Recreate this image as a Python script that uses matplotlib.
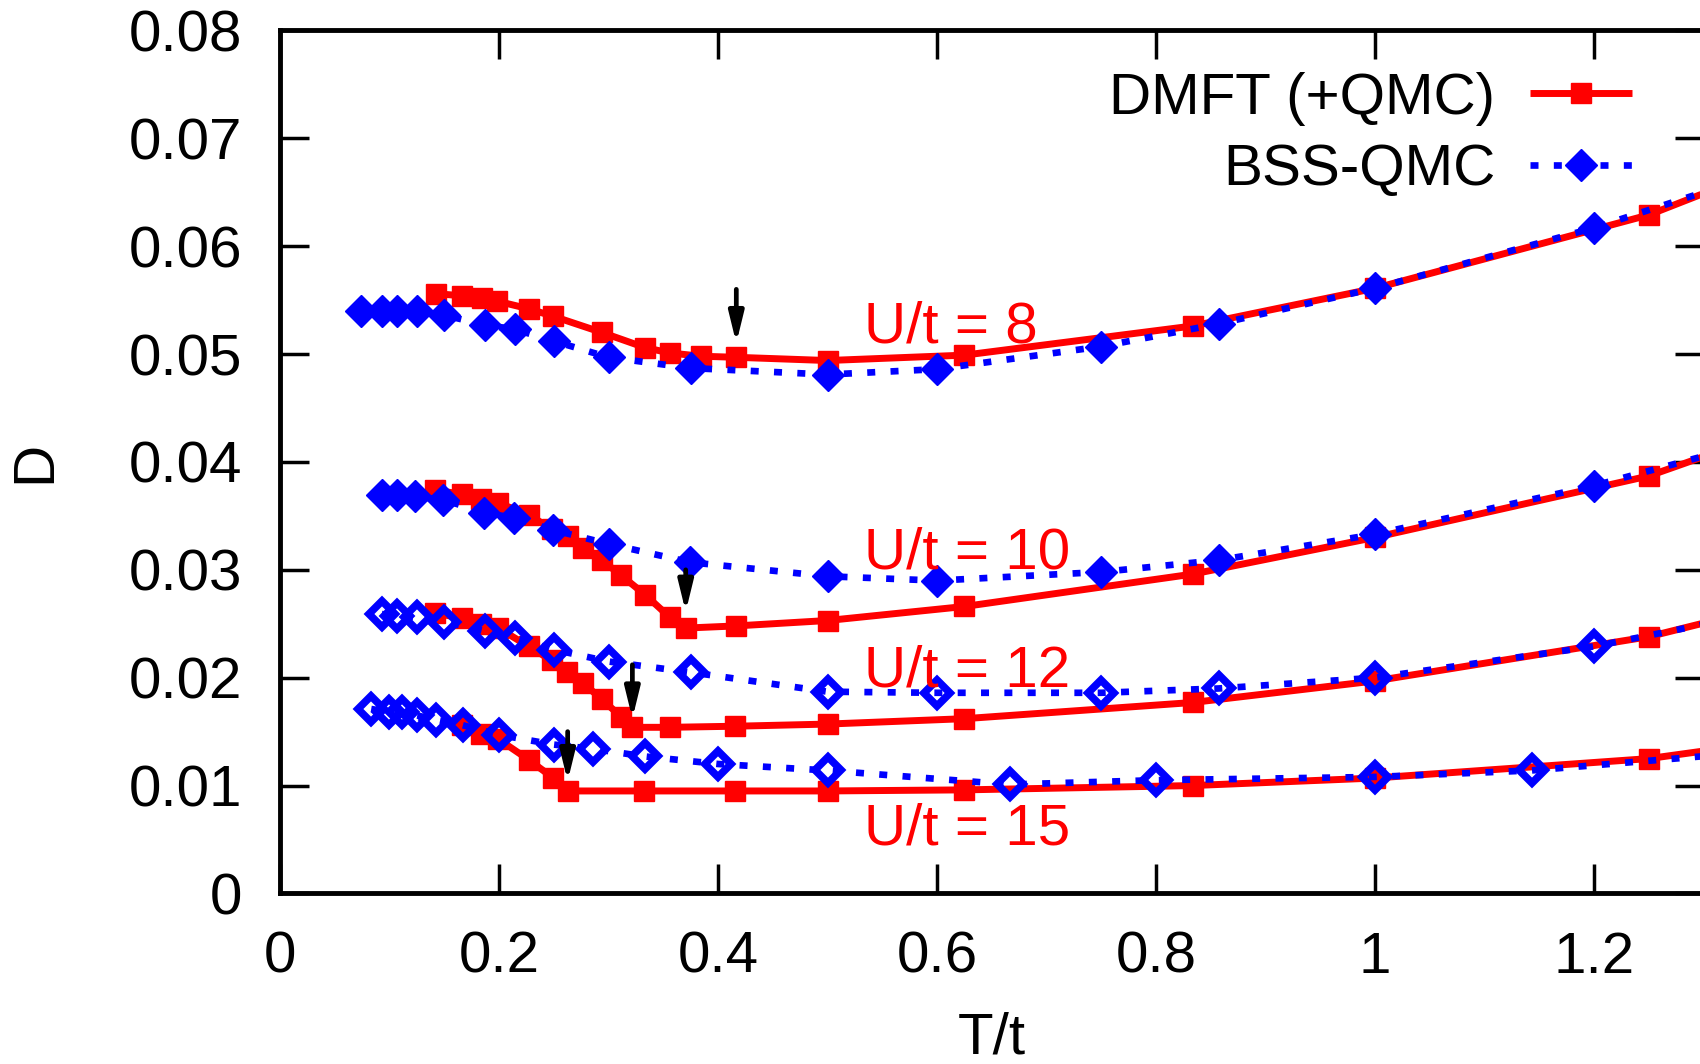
import matplotlib
matplotlib.use('Agg')
import matplotlib.pyplot as plt

plt.rcParams['font.family'] = ['Liberation Sans', 'DejaVu Sans']
FS = 42

# ---------------- data ----------------
T_dmft_8 = [0.1425, 0.1665, 0.1844, 0.1985, 0.2270, 0.2496, 0.2940, 0.3333, 0.3560, 0.3845,
            0.4167, 0.5, 0.625, 0.8333, 1.0, 1.25, 1.4286]
D_dmft_8 = [0.0556, 0.0554, 0.0552, 0.0549, 0.0542, 0.0535, 0.0520, 0.0506, 0.0501, 0.0498,
            0.0497, 0.0494, 0.0499, 0.0526, 0.0561, 0.0629, 0.0700]

T_bss_8 = [0.0737, 0.093, 0.107, 0.125, 0.15, 0.1875, 0.2143, 0.25, 0.3, 0.375, 0.5, 0.6,
           0.75, 0.8571, 1.0, 1.2, 1.5]
D_bss_8 = [0.0540, 0.0540, 0.0540, 0.0540, 0.0536, 0.0527, 0.0523, 0.0512, 0.0497, 0.0487,
           0.0481, 0.0486, 0.0507, 0.0528, 0.0561, 0.0617, 0.0716]

T_dmft_10 = [0.1416, 0.166, 0.184, 0.1995, 0.227, 0.248, 0.2633, 0.277, 0.2937, 0.3114, 0.3333,
             0.356, 0.3708, 0.4167, 0.5, 0.625, 0.8333, 1.0, 1.25, 1.4286]
D_dmft_10 = [0.0374, 0.0370, 0.0366, 0.0362, 0.0351, 0.0338, 0.0331, 0.0320, 0.0309, 0.0295,
             0.0277, 0.0256, 0.0246, 0.0248, 0.0253, 0.0266, 0.0296, 0.0330, 0.0387, 0.0451]

T_bss_10 = [0.093, 0.107, 0.1233, 0.149, 0.1866, 0.214, 0.249, 0.3, 0.3744, 0.5, 0.6, 0.75,
            0.8575, 1.0, 1.2, 1.5]
D_bss_10 = [0.0369, 0.0369, 0.0368, 0.0365, 0.0353, 0.0348, 0.0337, 0.0324, 0.0307, 0.0294,
            0.0290, 0.0298, 0.0309, 0.0333, 0.0378, 0.0460]

T_dmft_12 = [0.1416, 0.166, 0.184, 0.1995, 0.227, 0.248, 0.262, 0.277, 0.2937, 0.3114, 0.3217,
             0.356, 0.4155, 0.5, 0.625, 0.8333, 1.0, 1.25, 1.4286]
D_dmft_12 = [0.0260, 0.0255, 0.0250, 0.0246, 0.0229, 0.0216, 0.0205, 0.0195, 0.0180, 0.0164,
             0.0154, 0.0154, 0.0155, 0.0157, 0.0162, 0.0177, 0.0197, 0.0238, 0.0283]

T_bss_12 = [0.093, 0.107, 0.125, 0.15, 0.1875, 0.2143, 0.25, 0.3, 0.375, 0.5, 0.6, 0.75,
            0.8571, 1.0, 1.2, 1.5]
D_bss_12 = [0.0259, 0.0257, 0.0256, 0.0252, 0.0243, 0.0237, 0.0226, 0.0215, 0.0205, 0.0187,
            0.0186, 0.0186, 0.0190, 0.0200, 0.0229, 0.0290]

T_dmft_15 = [0.1665, 0.184, 0.1995, 0.227, 0.2496, 0.2633, 0.3327, 0.4155, 0.5, 0.625, 0.8333,
             1.0, 1.25, 1.4286]
D_dmft_15 = [0.0156, 0.0148, 0.0143, 0.0124, 0.0107, 0.0095, 0.0095, 0.0095, 0.0095, 0.0096,
             0.0100, 0.0107, 0.0125, 0.0150]

T_bss_15 = [0.0833, 0.1, 0.1111, 0.125, 0.1429, 0.1667, 0.2, 0.25, 0.2857, 0.3333, 0.4, 0.5,
            0.6667, 0.8, 1.0, 1.1429, 1.5]
D_bss_15 = [0.0171, 0.0168, 0.0168, 0.0165, 0.0161, 0.0156, 0.0147, 0.0138, 0.0134, 0.0127,
            0.0120, 0.0114, 0.0101, 0.0105, 0.0108, 0.0114, 0.0144]

arrow_T = [0.4167, 0.3705, 0.3218, 0.2627]
arrow_top = [0.0560, 0.0300, 0.0212, 0.0150]
arrow_tip = [0.0510, 0.0261, 0.0162, 0.0104]

label_text = ['U/t = 8', 'U/t = 10', 'U/t = 12', 'U/t = 15']
label_T = [0.5334, 0.5334, 0.5334, 0.5334]
label_D = [0.0511, 0.0301, 0.0192, 0.00455]

xticks = [0, 0.2, 0.4, 0.6, 0.8, 1.0, 1.2]
xticklabels = ['0', '0.2', '0.4', '0.6', '0.8', '1', '1.2']
yticks = [0, 0.01, 0.02, 0.03, 0.04, 0.05, 0.06, 0.07, 0.08]
yticklabels = ['0', '0.01', '0.02', '0.03', '0.04', '0.05', '0.06', '0.07', '0.08']

# ---------------- plot ----------------
fig = plt.figure(figsize=(17, 10.64), dpi=100)
ax = fig.add_axes([0.1647, 0.1603, 0.8374, 0.8111])

red = '#ff0000'
blue = '#0000ff'
dmft_kw = dict(color=red, lw=5, marker='s', ms=15, zorder=3, solid_capstyle='butt')
bss_kw = dict(color=blue, lw=4.8, ls=(0, (1.2, 2.3)), marker='D', ms=16, zorder=4,
              dash_capstyle='butt')
hollow_kw = dict(bss_kw, ms=13, mfc='none', mew=5.5)

ax.plot(T_dmft_8, D_dmft_8, label='DMFT (+QMC)', **dmft_kw)
ax.plot(T_dmft_10, D_dmft_10, **dmft_kw)
ax.plot(T_dmft_12, D_dmft_12, **dmft_kw)
ax.plot(T_dmft_15, D_dmft_15, **dmft_kw)

ax.plot(T_bss_8, D_bss_8, label='BSS-QMC', **bss_kw)
ax.plot(T_bss_10, D_bss_10, **bss_kw)
ax.plot(T_bss_12, D_bss_12, **hollow_kw)
ax.plot(T_bss_15, D_bss_15, **hollow_kw)

for t, d0, d1 in zip(arrow_T, arrow_top, arrow_tip):
    ax.annotate('', xy=(t, d1), xytext=(t, d0),
                arrowprops=dict(arrowstyle='-|>,head_length=0.9,head_width=0.22',
                                color='black', lw=3.4, shrinkA=0, shrinkB=0,
                                mutation_scale=20), zorder=6)

for s, t, d in zip(label_text, label_T, label_D):
    ax.text(t, d, s, color=red, fontsize=FS, ha='left', va='baseline', zorder=7)

ax.set_xlim(0, 1.3)
ax.set_ylim(0, 0.08)
ax.set_xticks(xticks)
ax.set_xticklabels(xticklabels)
ax.set_yticks(yticks)
ax.set_yticklabels(yticklabels)
ax.tick_params(direction='in', length=21, width=2.5, top=True, right=True,
               labelsize=FS, pad=27)
for sp in ax.spines.values():
    sp.set_linewidth(3.5)

ax.set_xlabel('T/t', fontsize=FS, labelpad=19)
ax.set_ylabel('D', fontsize=FS, labelpad=48)

ax.legend(loc='upper right', bbox_to_anchor=(0.950, 0.952), markerfirst=False,
          frameon=False, fontsize=FS, handlelength=1.75, handletextpad=0.6,
          borderaxespad=0, borderpad=0, labelspacing=0.30)

fig.savefig('out.png', dpi=100)
